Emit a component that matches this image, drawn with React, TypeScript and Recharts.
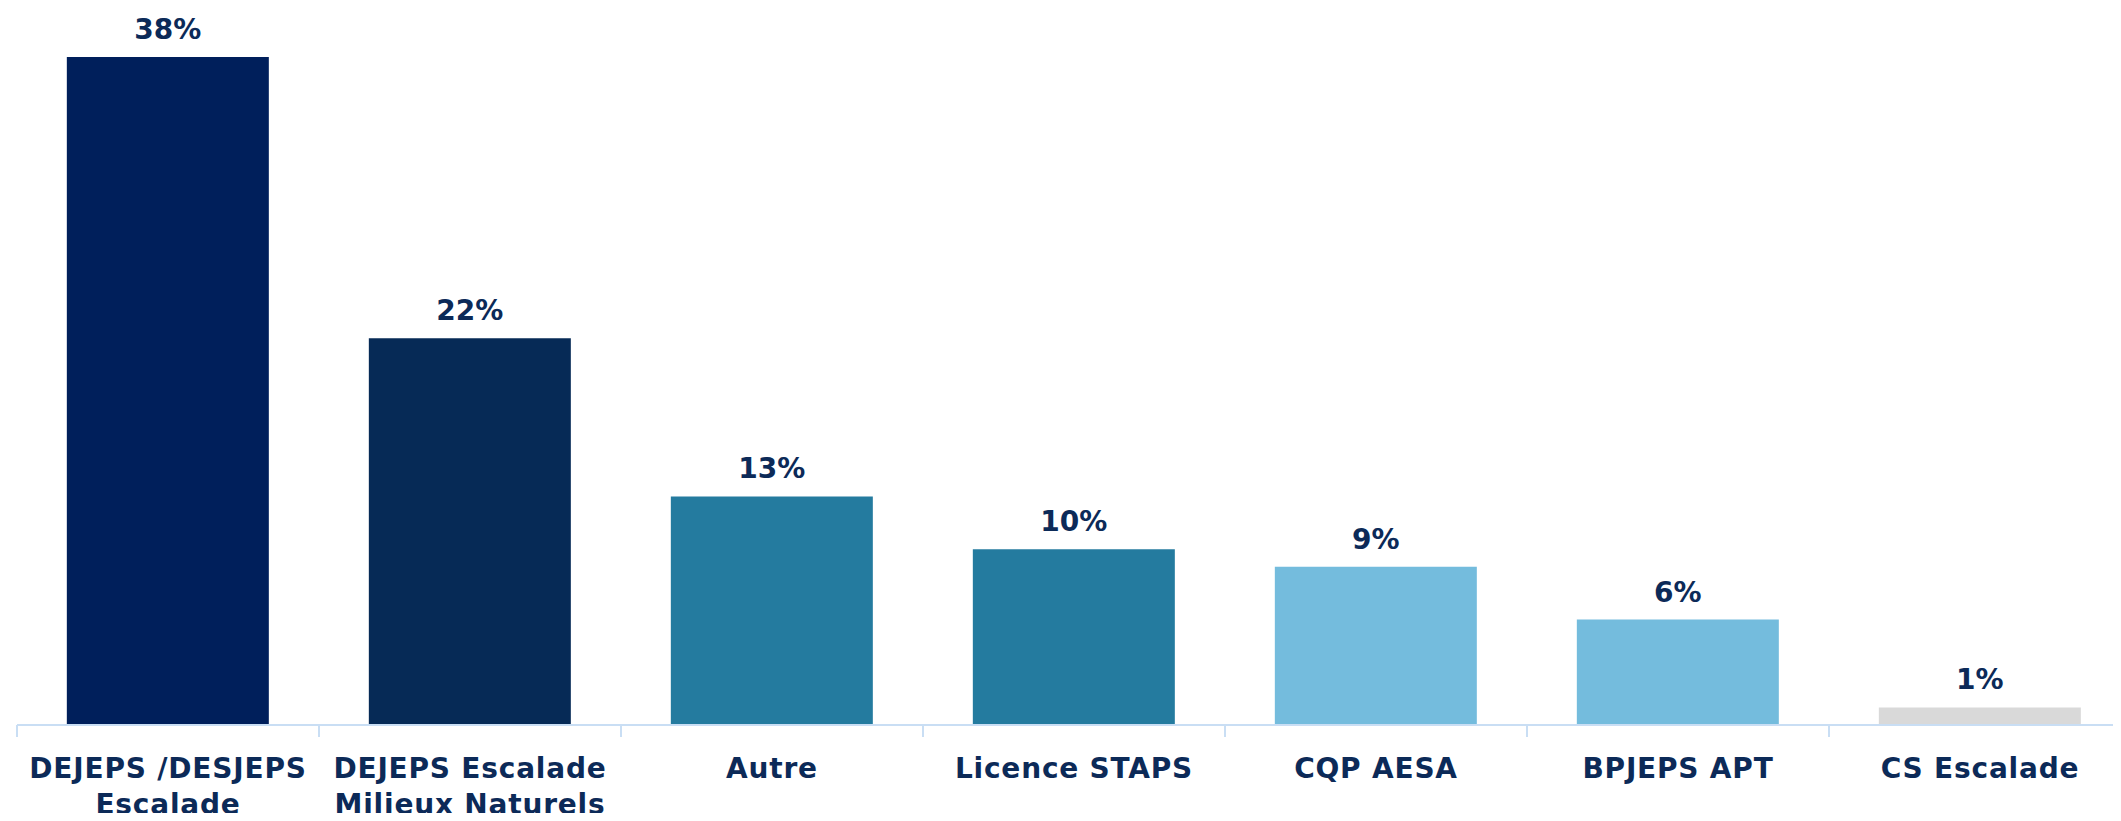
import { Bar, BarChart, Cell, LabelList, XAxis, YAxis } from "recharts";

const categories = [
  "DEJEPS /DESJEPS\nEscalade",
  "DEJEPS Escalade\nMilieux Naturels",
  "Autre",
  "Licence STAPS",
  "CQP AESA",
  "BPJEPS APT",
  "CS Escalade",
];
const values = [38, 22, 13, 10, 9, 6, 1];
const barColors = ["#001f5b", "#062a56", "#247b9f", "#247b9f", "#74bcdd", "#74bcdd", "#d9d9d9"];

const data = categories.map((name, i) => ({ name, value: values[i] }));

const TEXT = "#0c2a58";
const FONT = "'DejaVu Sans', sans-serif";
const CHART_W = 2140;
const MARGIN = { top: 57, right: 9, left: 17, bottom: 0 };
const BAND = (CHART_W - MARGIN.left - MARGIN.right) / categories.length;

function CategoryTick(props: any) {
  const { x, y, payload } = props;
  const lines = String(payload.value).split("\n");
  const left = x - BAND / 2;
  return (
    <g>
      <line x1={left} y1={y - 8} x2={left} y2={y + 4} stroke="#c9def4" strokeWidth={2} />
      <text
        x={x}
        y={y}
        textAnchor="middle"
        fill={TEXT}
        fontFamily={FONT}
        fontWeight={700}
        fontSize={28}
        letterSpacing={0.8}
      >
        {lines.map((l, i) => (
          <tspan key={i} x={x} y={y + 45 + i * 36}>
            {l}
          </tspan>
        ))}
      </text>
    </g>
  );
}

export default function App() {
  return (
    <div style={{ width: 2121, height: 821, overflow: "hidden", margin: -8, background: "#fff" }}>
      <BarChart width={CHART_W} height={821} data={data} margin={MARGIN} barCategoryGap="16.5%">
        <YAxis hide domain={[0, 38]} />
        <XAxis
          dataKey="name"
          interval={0}
          height={96}
          axisLine={{ stroke: "#c9def4", strokeWidth: 2 }}
          tickLine={false}
          tick={<CategoryTick />}
        />
        <Bar dataKey="value" isAnimationActive={false}>
          {data.map((d, i) => (
            <Cell key={d.name} fill={barColors[i]} />
          ))}
          <LabelList
            dataKey="value"
            position="top"
            offset={18}
            formatter={(v: any) => `${v}%`}
            fill={TEXT}
            fontFamily={FONT}
            fontWeight={700}
            fontSize={28}
          />
        </Bar>
      </BarChart>
    </div>
  );
}
